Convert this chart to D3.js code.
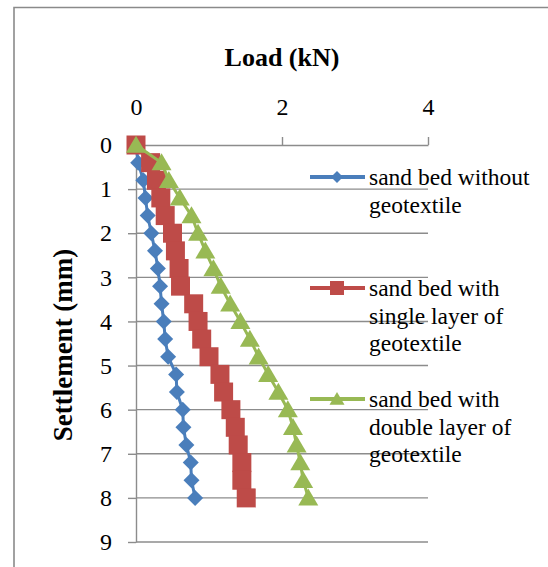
<!DOCTYPE html>
<html>
<head>
<meta charset="utf-8">
<script src="https://cdn.jsdelivr.net/npm/d3@7"></script>
<style>
  html, body { margin: 0; padding: 0; background: #fff; }
  svg { display: block; }
  text { font-family: "Liberation Serif", "Times New Roman", serif; fill: #000; }
</style>
</head>
<body>
<svg id="chart" width="548" height="567"></svg>
<script>
// ---- data ----
const settlement = [0, 0.4, 0.8, 1.2, 1.6, 2.0, 2.4, 2.8, 3.2, 3.6, 4.0, 4.4, 4.8, 5.2, 5.6, 6.0, 6.4, 6.8, 7.2, 7.6, 8.0];
const loadWithout = [0, 0.03, 0.10, 0.13, 0.16, 0.21, 0.26, 0.30, 0.33, 0.35, 0.38, 0.40, 0.44, 0.55, 0.56, 0.64, 0.65, 0.69, 0.75, 0.76, 0.81];
const loadSingle = [0, 0.20, 0.28, 0.34, 0.40, 0.50, 0.54, 0.59, 0.61, 0.79, 0.85, 0.90, 1.00, 1.15, 1.20, 1.30, 1.36, 1.40, 1.45, 1.45, 1.51];
const loadDouble = [0, 0.35, 0.45, 0.60, 0.76, 0.85, 0.95, 1.06, 1.16, 1.29, 1.43, 1.56, 1.68, 1.81, 1.95, 2.08, 2.15, 2.20, 2.25, 2.29, 2.36];
const xTicks = [0, 2, 4];
const yTicks = [0, 1, 2, 3, 4, 5, 6, 7, 8, 9];
const seriesNames = [
  ["sand bed without", "geotextile"],
  ["sand bed with", "single layer of", "geotextile"],
  ["sand bed with", "double layer of", "geotextile"]
];
const seriesColors = ["#4A7EBB", "#BE4B48", "#98B954"];
const seriesShapes = ["diamond", "square", "triangle"];
const xTitle = "Load (kN)";
const yTitle = "Settlement (mm)";

// ---- layout ----
const svg = d3.select("#chart");
const x = d3.scaleLinear().domain([0, 4]).range([136, 428]);
const y = d3.scaleLinear().domain([0, 9]).range([145, 542]);
const grid = "#8c8c8c";

// outer border
svg.append("path")
  .attr("d", "M14,600 L14,7.5 L600,7.5")
  .attr("fill", "none").attr("stroke", "#8a8a8a").attr("stroke-width", 1.6);

// gridlines
svg.append("g").selectAll("line").data(yTicks.slice(1)).join("line")
  .attr("x1", x(0)).attr("x2", x(4))
  .attr("y1", d => y(d)).attr("y2", d => y(d))
  .attr("stroke", grid).attr("stroke-width", 1.4);

// axes
const xAxis = d3.axisTop(x).tickValues(xTicks).tickSize(8).tickSizeOuter(0).tickPadding(22).tickFormat(d3.format("d"));
const yAxis = d3.axisLeft(y).tickValues(yTicks).tickSize(8).tickSizeOuter(0).tickPadding(16).tickFormat(d3.format("d"));

const gx = svg.append("g").attr("transform", `translate(0,${y(0)})`).call(xAxis);
const gy = svg.append("g").attr("transform", `translate(${x(0)},0)`).call(yAxis);
[gx, gy].forEach(g => {
  g.select(".domain").attr("stroke", grid).attr("stroke-width", 1.4);
  g.selectAll(".tick line").attr("stroke", grid).attr("stroke-width", 1.4);
  g.selectAll(".tick text").attr("font-size", 24).attr("font-family", "Liberation Serif, Times New Roman, serif").attr("fill", "#000");
});

// axis titles
svg.append("text").attr("x", 282).attr("y", 66).attr("text-anchor", "middle")
  .attr("font-size", 26).attr("font-weight", "bold").text(xTitle);
svg.append("text").attr("transform", "translate(72,345) rotate(-90)").attr("text-anchor", "middle")
  .attr("font-size", 27).attr("font-weight", "bold").text(yTitle);

// marker paths
function markerPath(shape, s) {
  if (shape === "diamond") { const r = s / 2; return `M0,${-r}L${r},0L0,${r}L${-r},0Z`; }
  if (shape === "square") { const r = s / 2; return `M${-r},${-r}H${r}V${r}H${-r}Z`; }
  const w = s / 2, h = s * 0.85;
  return `M0,${-h * 0.55}L${w},${h * 0.45}L${-w},${h * 0.45}Z`;
}
const markerSize = { diamond: 16, square: 19, triangle: 20 };
const legendSize = { diamond: 12, square: 14, triangle: 15 };

const allLoads = [loadWithout, loadSingle, loadDouble];
const line = d3.line().x(d => x(d[0])).y(d => y(d[1]));

allLoads.forEach((loads, i) => {
  const pts = loads.map((v, j) => [v, settlement[j]]);
  const g = svg.append("g");
  g.append("path").attr("d", line(pts)).attr("fill", "none")
    .attr("stroke", seriesColors[i]).attr("stroke-width", 3);
  g.selectAll("path.m").data(pts).join("path").attr("class", "m")
    .attr("transform", d => `translate(${x(d[0])},${y(d[1])})`)
    .attr("d", markerPath(seriesShapes[i], markerSize[seriesShapes[i]]))
    .attr("fill", seriesColors[i]);
});

// legend
const legendY = [177, 288, 399];
const lineH = 27.5;
seriesNames.forEach((lines, i) => {
  const g = svg.append("g").attr("transform", `translate(0,${legendY[i]})`);
  g.append("line").attr("x1", 310).attr("x2", 365).attr("y1", 0).attr("y2", 0)
    .attr("stroke", seriesColors[i]).attr("stroke-width", 4);
  g.append("path").attr("transform", "translate(337,0)")
    .attr("d", markerPath(seriesShapes[i], legendSize[seriesShapes[i]]))
    .attr("fill", seriesColors[i]);
  lines.forEach((t, k) => {
    g.append("text").attr("x", 369).attr("y", k * lineH + 8).attr("font-size", 23.5).text(t);
  });
});
</script>
</body>
</html>
